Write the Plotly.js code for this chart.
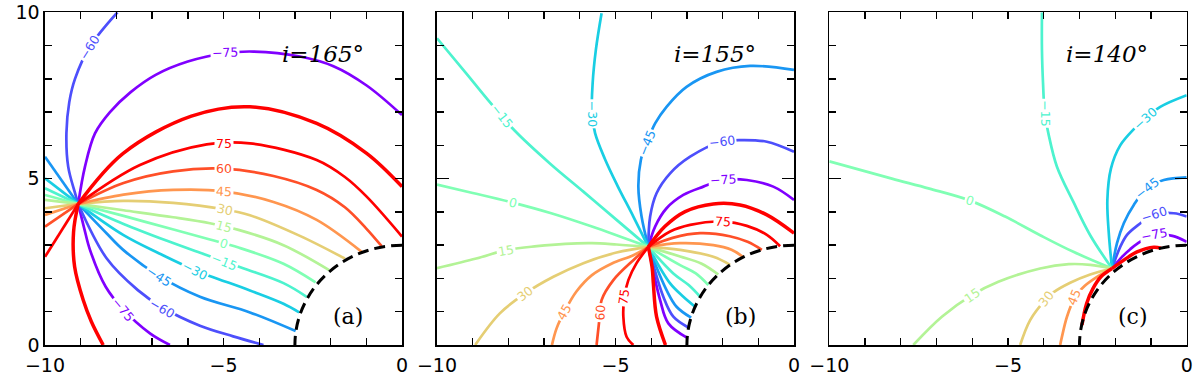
<!DOCTYPE html>
<html><head><meta charset="utf-8">
<script src="https://cdn.plot.ly/plotly-3.0.1.min.js"></script>
<style>html,body{margin:0;padding:0;background:#fff;}#chart{width:1200px;height:381px;}</style>
</head><body><div id="chart"></div>
<script>
// ---------------- data ----------------
const panelTitles = ["i=165°", "i=155°", "i=140°"];
const panelTags = ["(a)", "(b)", "(c)"];
const horizonR = 3;
const xTickVals = [-10, -5, 0];
const yTickVals = [0, 5, 10];

// Panel (a)
const aCenter = [-9.07, 4.24];
const aLevel = [-75, -75, -60, -60, -45, -45, -30, -30, -15, -15, 0, 0, 15, 15, 30, 30, 45, 45, 60, 60, 75, 75, 90, 90];
const aRayX = [
  [-8.88,-8.60,-8.18,-7.6,-6.9,-6.0,-4.96,-4.16,-2.86,-1.92,-0.99,0],
  [-8.9,-8.74,-8.3,-7.81,-7.06,-6.5],
  [-9.16,-9.35,-9.40,-9.32,-9.16,-8.74,-7.97],
  [-8.27,-7.4,-6.7,-5.66,-4.73,-3.88],
  [-8.27,-7.81,-6.8,-5.66,-4.26,-2.98],
  [-10],
  [-7.8,-6.8,-5.8,-4.26,-3.32,-2.88],
  [-10],
  [-7.8,-6.6,-5.52,-4.45,-3.32,-2.67],
  [-10],
  [-7.8,-6.4,-5.38,-4.58,-3.32,-2.42],
  [-10],
  [-7.8,-6.41,-5.38,-4.58,-3.32,-2.04],
  [-10],
  [-7.8,-6.41,-5.0,-4.26,-2.86,-1.6],
  [-10],
  [-7.8,-6.41,-5.0,-3.6,-2.39,-1.13],
  [-10],
  [-7.8,-6.41,-5.0,-3.6,-2.39,-1.6,-1.0,-0.57],
  [-10],
  [-7.34,-5.47,-4.26,-2.39,-1.6,-0.99,0],
  [-10],
  [-7.81,-5.9,-4.26,-2.39,-0.99,0],
  [-9.2,-9.17,-8.93,-8.7,-8.37]
];
const aRayY = [
  [5.36,6.36,7.0,7.6,8.12,8.52,8.77,8.82,8.67,8.38,7.8,6.91],
  [3.5,2.86,1.75,1.07,0.35,0],
  [4.57,5.36,6.37,7.30,8.00,8.97,10.0],
  [2.6,1.65,1.12,0.58,0.26,0],
  [3.35,2.86,2.07,1.45,0.98,0.42],
  [5.66],
  [3.3,2.75,2.25,1.64,1.24,0.98],
  [5.01],
  [3.64,3.14,2.72,2.31,1.86,1.45],
  [4.71],
  [3.88,3.47,3.17,2.93,2.44,1.88],
  [4.51],
  [4.05,3.84,3.66,3.46,3.0,2.25],
  [4.36],
  [4.33,4.27,4.08,3.9,3.28,2.6],
  [4.11],
  [4.52,4.66,4.62,4.3,3.76,2.80],
  [3.91],
  [4.87,5.22,5.3,5.08,4.66,4.14,3.5,2.97],
  [3.56],
  [5.41,6.03,6.06,5.56,5.05,4.46,3.26],
  [2.65],
  [5.76,6.88,7.16,6.66,5.76,4.76],
  [3.4,2.35,1.35,0.7,0]
];
const aLabText = ["−60","−75","75","60","45","30","15","0","−15","−30","−45","−60","−75"];
const aLabLevel = [-60,-75,75,60,45,30,15,0,-15,-30,-45,-60,-75];
const aLabX = [-8.76,-4.96,-4.99,-4.99,-4.99,-4.96,-4.99,-4.99,-5.0,-5.8,-6.8,-6.71,-7.81];
const aLabY = [8.95,8.78,6.06,5.3,4.62,4.08,3.56,3.05,2.5,2.25,2.07,1.1,1.07];
const aLabAngle = [-58,-2,0,0,3,12,15,18,22,27,33,30,50];

// Panel (b)
const bCenter = [-4.08, 2.95];
const bLevel = [-75,-75,-60,-60,-45,-45,-30,-30,-15,-15,0,0,15,15,30,30,45,45,60,60,75,75,90,90];
const bRayX = [
  [-3.89,-3.57,-3.10,-2.54,-1.98,-1.32,-0.58,0],
  [-3.75,-3.52,-3.0],
  [-4.03,-3.85,-3.47,-2.91,-2.03,-1.42,-0.76,0],
  [-3.66,-3.38,-2.95],
  [-4.27,-4.36,-4.29,-4.13,-3.89,-3.57,-3.01,-2.17,-1.23,0],
  [-3.57,-3.29,-2.88],
  [-4.5,-4.95,-5.3,-5.57,-5.66,-5.64,-5.55,-5.39],
  [-3.47,-3.1,-2.77],
  [-4.97,-5.90,-6.83,-7.82,-8.52,-9.17,-10],
  [-3.38,-2.95,-2.63],
  [-4.8,-5.66,-6.8,-7.88,-9.0,-10],
  [-3.19,-2.75,-2.40],
  [-4.97,-5.66,-6.41,-7.2,-8.07,-8.9,-10],
  [-3.19,-2.6,-2.12],
  [-4.97,-5.9,-6.74,-7.53,-8.24,-8.93],
  [-3.19,-2.26,-1.79],
  [-4.5,-5.1,-5.66,-6.1,-6.43,-6.65,-6.78],
  [-3.19,-2.26,-1.75,-1.42],
  [-4.5,-5.06,-5.39,-5.43,-5.53],
  [-3.4,-2.63,-1.8,-1.3,-0.9],
  [-4.41,-4.64,-4.75,-4.78,-4.69,-4.5],
  [-3.47,-2.91,-1.98,-1.32,-0.76,-0.39],
  [-3.62,-3.05,-2.26,-1.51,-0.76,0],
  [-3.97,-3.94,-3.85,-3.6]
];
const bRayY = [
  [3.56,4.11,4.51,4.76,4.96,4.96,4.76,4.36],
  [1.35,0.65,0.22],
  [3.86,4.56,5.16,5.66,6.11,6.16,6.11,5.81],
  [1.45,0.85,0.52],
  [3.86,4.76,5.56,6.06,6.66,7.16,7.76,8.21,8.39,8.27],
  [1.65,1.15,0.82],
  [3.86,4.8,5.6,6.36,6.96,7.87,8.87,9.97],
  [1.85,1.45,1.15],
  [3.76,4.61,5.45,6.44,7.30,8.15,9.22],
  [2.15,1.8,1.45],
  [3.23,3.56,3.96,4.28,4.57,4.82],
  [2.40,2.15,1.80],
  [3.02,3.06,3.04,2.97,2.85,2.6,2.31],
  [2.66,2.45,2.12],
  [2.78,2.46,2.05,1.55,0.95,0],
  [2.86,2.65,2.41],
  [2.7,2.45,2.1,1.6,1.0,0.5,0],
  [3.06,3.0,2.86,2.64],
  [2.55,1.95,1.35,0.98,0],
  [3.22,3.36,3.27,3.1,2.86],
  [2.46,1.95,1.45,0.85,0.25,0],
  [3.41,3.61,3.71,3.58,3.31,2.97],
  [3.56,4.01,4.24,4.21,3.91,3.36],
  [2.3,1.85,0.85,0]
];
const bLabText = ["−15","−30","−45","−60","−75","75","75","60","45","30","15","0"];
const bLabLevel = [-15,-30,-45,-60,-75,75,75,60,45,30,15,0];
const bLabX = [-8.19,-5.64,-4.13,-2.03,-1.98,-1.98,-4.76,-5.43,-6.43,-7.53,-8.07,-7.88];
const bLabY = [6.89,6.96,6.06,6.11,4.96,3.71,1.45,0.98,1.0,1.55,2.85,4.28];
const bLabAngle = [52,90,-68,-6,-3,4,-82,-86,-60,-38,-10,15];

// Panel (c)
const cCenter = [-2.09, 2.30];
const cLevel = [-75,-60,-45,-30,-15,0,15,30,45,90,90];
const cRayX = [
  [-1.81,-1.58,-1.39,-0.92,-0.4,0],
  [-1.86,-1.67,-1.39,-0.92,-0.36,0],
  [-1.95,-1.76,-1.48,-1.11,-0.64,0],
  [-2.18,-2.22,-2.12,-1.86,-1.45,-1.16,-0.74,0],
  [-2.70,-3.17,-3.63,-3.87,-3.97,-4.02,-4.05,-4.05],
  [-3.17,-4.1,-5.08,-6.06,-7.2,-8.25,-10],
  [-2.70,-3.3,-4.1,-5.27,-6.01,-6.85,-7.65],
  [-2.70,-3.26,-3.73,-3.96,-4.38,-4.66],
  [-2.55,-2.85,-3.12,-3.35,-3.49,-3.54],
  [-1.76,-1.39,-0.92,-0.72],
  [-2.40,-2.62,-2.8,-2.93]
];
const cRayY = [
  [2.65,2.88,3.04,3.32,3.28,3.1],
  [2.95,3.31,3.58,3.91,3.96,3.86],
  [3.06,3.66,4.21,4.71,4.96,5.04],
  [3.36,4.36,5.3,6.0,6.52,6.81,7.16,7.51],
  [3.3,4.3,5.36,6.36,6.96,7.87,8.87,10.0],
  [2.8,3.3,3.86,4.34,4.7,5.0,5.52],
  [2.41,2.43,2.3,1.9,1.5,0.85,0],
  [2.12,1.87,1.58,1.35,0.75,0],
  [2.02,1.78,1.45,0.85,0.25,0],
  [2.55,2.8,2.94,2.91],
  [2.05,1.7,1.25,0.6]
];
const cLabText = ["−15","−30","−45","−60","−75","0","15","30","45"];
const cLabLevel = [-15,-30,-45,-60,-75,0,15,30,45];
const cLabX = [-3.96,-1.16,-1.12,-0.92,-0.92,-6.06,-6.01,-3.93,-3.14];
const cLabY = [6.96,6.81,4.71,3.91,3.33,4.34,1.5,1.4,1.45];
const cLabAngle = [90,-42,-38,-18,-10,18,-35,-52,-68];

// ---------------- styling / building ----------------
function rainbow(level) { // matplotlib "rainbow" colormap over levels -75..75
  const t = Math.min(1, Math.max(0, (level + 75) / 150));
  const r = Math.min(1, Math.abs(2 * t - 0.5));
  const g = Math.sin(Math.PI * t);
  const b = Math.cos(Math.PI * t / 2);
  return `rgb(${Math.round(r*255)},${Math.round(g*255)},${Math.round(b*255)})`;
}

const panels = [
  {c: aCenter, lv: aLevel, rx: aRayX, ry: aRayY, lt: aLabText, ll: aLabLevel, lx: aLabX, ly: aLabY, la: aLabAngle},
  {c: bCenter, lv: bLevel, rx: bRayX, ry: bRayY, lt: bLabText, ll: bLabLevel, lx: bLabX, ly: bLabY, la: bLabAngle},
  {c: cCenter, lv: cLevel, rx: cRayX, ry: cRayY, lt: cLabText, ll: cLabLevel, lx: cLabX, ly: cLabY, la: cLabAngle}
];

const xDomains = [[45/1200, 402/1200], [437/1200, 794/1200], [829.3/1200, 1186.7/1200]];
const yDomain = [1 - 345/381, 1 - 12.3/381];

const traces = [];
const annotations = [];
const shapes = [];
const layout = {
  width: 1200, height: 381,
  margin: {l: 0, r: 0, t: 0, b: 0},
  paper_bgcolor: 'white', plot_bgcolor: 'white',
  showlegend: false,
  font: {family: 'DejaVu Sans', color: 'black'},
  annotations, shapes
};

panels.forEach((p, k) => {
  const sfx = k === 0 ? '' : String(k + 1);
  const xa = 'x' + sfx, ya = 'y' + sfx;
  const order = p.lv.map((v, i) => i).sort((i, j) => p.lv[i] - p.lv[j]);
  order.forEach(i => {
    const lvl = p.lv[i];
    traces.push({
      type: 'scatter', mode: 'lines', xaxis: xa, yaxis: ya,
      x: [p.c[0]].concat(p.rx[i]), y: [p.c[1]].concat(p.ry[i]),
      line: {color: rainbow(lvl), width: lvl === 90 ? 3.5 : 2.7, shape: 'spline', smoothing: 1},
      hoverinfo: 'skip'
    });
  });
  p.lt.forEach((t, i) => {
    annotations.push({
      xref: xa, yref: ya, x: p.lx[i], y: p.ly[i], text: t, textangle: p.la[i],
      showarrow: false, bgcolor: 'white', borderpad: 1,
      font: {family: 'DejaVu Sans', size: 12.5, color: rainbow(p.ll[i])}
    });
  });
  annotations.push({
    xref: xa, yref: ya, x: -2.22, y: 8.74, text: '<i>' + panelTitles[k] + '</i>',
    showarrow: false, font: {family: 'DejaVu Serif', size: 23, color: 'black'}
  });
  annotations.push({
    xref: xa, yref: ya, x: -1.51, y: 0.87, text: panelTags[k],
    showarrow: false, font: {family: 'DejaVu Serif', size: 22, color: 'black'}
  });
  shapes.push({
    type: 'circle', xref: xa, yref: ya, x0: -horizonR, x1: horizonR, y0: -horizonR, y1: horizonR,
    line: {color: 'black', width: 3, dash: '11px,6px'}, layer: 'above'
  });
  const common = {
    showline: true, linecolor: 'black', linewidth: 1.6, mirror: 'all',
    ticks: 'inside', tickwidth: 1.4, tickcolor: 'black',
    showgrid: false, zeroline: false, fixedrange: true,
    tickfont: {family: 'DejaVu Sans', size: 19, color: 'black'}
  };
  layout['xaxis' + sfx] = Object.assign({}, common, {
    domain: xDomains[k], anchor: ya, range: [-10, 0],
    tickvals: xTickVals, ticktext: xTickVals.map(v => v < 0 ? '−' + Math.abs(v) : String(v)),
    ticklen: 7, ticklabelstandoff: 3,
    minor: {dtick: 1, ticks: 'inside', ticklen: 7, tickwidth: 1.4, tickcolor: 'black', showgrid: false}
  });
  layout['yaxis' + sfx] = Object.assign({}, common, {
    domain: yDomain, anchor: xa, range: [0, 10],
    tickvals: yTickVals, ticktext: yTickVals.map(String),
    showticklabels: k === 0,
    ticklen: k === 0 ? 7 : 12,
    minor: {dtick: 1, ticks: 'inside', ticklen: 7, tickwidth: 1.4, tickcolor: 'black', showgrid: false}
  });
});

Plotly.newPlot('chart', traces, layout, {displayModeBar: false, staticPlot: true});
</script></body></html>
